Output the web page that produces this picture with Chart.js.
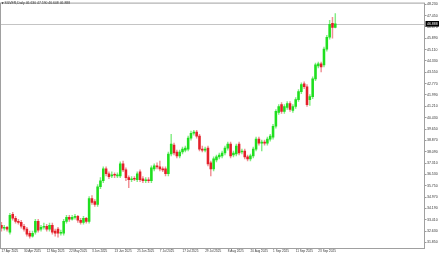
<!DOCTYPE html>
<html>
<head>
<meta charset="utf-8">
<script src="https://cdn.jsdelivr.net/npm/chart.js@4.4.1/dist/chart.umd.min.js"></script>
<style>
  html, body { margin: 0; padding: 0; background: #fff; }
  #wrap { width: 440px; height: 254px; }
</style>
</head>
<body>
<div id="wrap"><canvas id="chart"></canvas></div>
<script>
const symbol = 'SILVER,Daily';

// one label every 8 daily bars, starting at the first bar
const tickLabels = ['17 Apr 2025', '30 Apr 2025', '12 May 2025', '22 May 2025', '3 Jun 2025',
  '13 Jun 2025', '25 Jun 2025', '7 Jul 2025', '17 Jul 2025', '29 Jul 2025', '8 Aug 2025',
  '20 Aug 2025', '1 Sep 2025', '11 Sep 2025', '23 Sep 2025'];
const labelEvery = 8;

const yTicks = [48.23, 47.45, 46.67, 45.89, 45.11, 44.33, 43.55, 42.77, 41.99, 41.21, 40.43,
  39.65, 38.87, 38.09, 37.31, 36.53, 35.75, 34.97, 34.19, 33.41, 32.63, 31.85];

const open = [
  33.03, 32.83, 32.89, 32.55, 33.78, 33.51, 33.30, 33.23, 32.96, 32.76,
  32.48, 32.28, 32.55, 33.30, 32.76, 32.89, 32.96, 32.76, 33.03, 32.62,
  32.76, 32.48, 32.48, 33.30, 33.57, 33.44, 33.57, 33.64, 33.37, 33.23,
  33.51, 33.30, 34.87, 34.66, 34.46, 35.68, 36.09, 36.91, 36.57, 36.43,
  36.50, 36.43, 36.43, 37.25, 36.84, 36.30, 36.16, 36.23, 36.16, 36.71,
  36.23, 36.09, 36.16, 36.09, 36.91, 37.11, 37.05, 36.91, 36.91, 36.57,
  37.93, 38.54, 38.07, 37.80, 38.07, 38.20, 38.27, 39.02, 39.36, 39.43,
  39.16, 38.27, 38.20, 38.34, 37.32, 36.91, 37.52, 37.73, 37.80, 38.00,
  38.34, 38.61, 37.86, 37.93, 38.61, 38.07, 38.14, 37.73, 37.59, 37.80,
  38.27, 38.95, 38.68, 38.75, 38.68, 38.95, 39.09, 39.84, 40.79, 41.33,
  40.86, 41.13, 41.40, 40.93, 41.20, 41.67, 42.22, 42.76, 42.56, 41.67,
  41.88, 43.10, 43.99, 44.13, 44.06, 45.15, 45.96, 46.92, 46.630];
const high = [
  33.23, 33.03, 32.96, 33.85, 33.91, 33.64, 33.44, 33.37, 33.10, 32.89,
  32.62, 32.62, 33.44, 33.44, 33.03, 33.17, 33.10, 33.17, 33.17, 32.76,
  32.89, 32.69, 33.44, 33.71, 33.71, 33.71, 33.78, 33.71, 33.51, 33.64,
  33.57, 35.00, 35.07, 34.80, 35.82, 36.30, 37.05, 37.05, 36.71, 36.71,
  36.64, 36.64, 37.39, 37.45, 36.98, 36.43, 36.37, 36.37, 36.71, 36.84,
  36.37, 36.30, 36.30, 37.11, 37.25, 37.32, 37.45, 37.05, 37.05, 38.07,
  39.29, 38.68, 38.20, 38.20, 38.41, 38.48, 39.16, 39.50, 39.56, 39.56,
  39.29, 38.48, 38.41, 38.48, 37.45, 37.73, 37.86, 38.00, 38.14, 38.48,
  38.75, 38.75, 38.14, 38.61, 38.75, 38.27, 38.27, 37.86, 37.93, 38.41,
  39.09, 39.09, 38.88, 38.88, 39.09, 39.29, 39.97, 40.99, 41.33, 41.47,
  41.33, 41.54, 41.54, 41.33, 41.81, 42.36, 42.83, 42.90, 42.70, 42.01,
  43.24, 44.19, 44.26, 44.26, 45.28, 46.10, 47.12, 47.33, 47.590];
const low = [
  32.62, 32.69, 32.62, 32.42, 33.37, 33.17, 33.10, 32.83, 32.62, 32.28,
  32.14, 32.21, 32.42, 32.55, 32.62, 32.76, 32.62, 32.62, 32.42, 32.28,
  32.21, 32.35, 32.35, 33.17, 33.30, 33.37, 33.44, 33.23, 33.10, 33.10,
  33.17, 33.17, 34.46, 34.32, 34.32, 35.55, 35.96, 36.43, 36.23, 36.30,
  36.30, 36.30, 36.30, 36.71, 36.09, 35.62, 36.03, 36.09, 36.03, 36.03,
  35.96, 35.96, 35.96, 35.96, 36.77, 36.91, 36.77, 36.71, 36.43, 36.43,
  37.80, 37.86, 37.66, 37.66, 37.93, 38.07, 38.14, 38.88, 39.22, 39.02,
  38.14, 38.07, 38.07, 37.11, 36.43, 36.77, 37.39, 37.59, 37.66, 37.86,
  38.20, 37.66, 37.73, 37.80, 37.86, 37.93, 37.59, 37.45, 37.45, 37.66,
  38.14, 38.54, 38.14, 38.54, 38.54, 38.82, 38.95, 39.70, 40.65, 40.72,
  40.72, 40.99, 40.86, 40.79, 41.06, 41.54, 42.08, 42.42, 41.20, 41.27,
  41.74, 42.97, 43.85, 43.58, 43.92, 45.01, 45.83, 45.90, 46.608];
const close = [
  32.83, 32.89, 32.76, 33.71, 33.51, 33.30, 33.23, 32.96, 32.76, 32.42,
  32.28, 32.48, 33.30, 32.69, 32.89, 32.96, 32.76, 33.03, 32.55, 32.48,
  32.48, 32.55, 33.30, 33.57, 33.44, 33.57, 33.64, 33.37, 33.23, 33.51,
  33.30, 34.87, 34.60, 34.46, 35.68, 36.09, 36.91, 36.57, 36.37, 36.50,
  36.47, 36.50, 37.25, 36.84, 36.30, 36.16, 36.23, 36.20, 36.57, 36.16,
  36.09, 36.16, 36.09, 36.98, 37.11, 37.05, 36.91, 36.84, 36.57, 37.93,
  38.61, 38.00, 37.80, 38.07, 38.27, 38.34, 39.02, 39.36, 39.43, 39.16,
  38.27, 38.20, 38.27, 37.25, 36.91, 37.59, 37.73, 37.86, 38.00, 38.34,
  38.61, 37.80, 38.00, 38.48, 38.00, 38.14, 37.73, 37.59, 37.80, 38.27,
  38.95, 38.68, 38.75, 38.68, 38.95, 39.16, 39.84, 40.86, 41.20, 40.86,
  41.20, 41.40, 40.99, 41.20, 41.67, 42.22, 42.70, 42.56, 41.33, 41.88,
  43.10, 44.06, 44.13, 43.92, 45.15, 45.96, 46.85, 46.63, 46.888];

const UP = '#1fdf1f', DOWN = '#e3202a';
const UP_WICK = 'rgba(31,223,31,0.55)', DOWN_WICK = 'rgba(227,32,42,0.5)';
const FONT = 'Liberation Sans, Arial, sans-serif';

const last = close.length - 1;
const isUp = close.map((c, i) => c >= open[i]);

const bodies = open.map((o, i) => ({ x: i, y: [o, close[i]] }));
const wicks = low.map((l, i) => ({ x: i, y: [l, high[i]] }));

const overlay = {
  id: 'overlay',
  beforeDatasetsDraw(chart) {
    const { ctx, chartArea: a, scales: { y } } = chart;
    const py = Math.round(y.getPixelForValue(close[last])) + 0.5;
    ctx.save();
    ctx.strokeStyle = '#c4c4c4';
    ctx.lineWidth = 1;
    ctx.beginPath();
    ctx.moveTo(a.left, py);
    ctx.lineTo(a.right, py);
    ctx.stroke();
    ctx.restore();
  },
  afterDraw(chart) {
    const { ctx, chartArea: a, scales: { y } } = chart;
    ctx.save();
    // frame
    ctx.strokeStyle = '#a0a0a0';
    ctx.lineWidth = 1;
    ctx.strokeRect(a.left + 0.5, a.top + 0.5, a.right - a.left - 1, a.bottom - a.top);
    // last price box
    const py = y.getPixelForValue(close[last]);
    ctx.fillStyle = '#000';
    ctx.fillRect(a.right + 0.5, py - 2.8, 13.5, 5.6);
    ctx.fillStyle = '#fff';
    ctx.font = '3.5px ' + FONT;
    ctx.textBaseline = 'middle';
    ctx.textAlign = 'left';
    ctx.fillText(close[last].toFixed(3), a.right + 2, py + 0.2);
    // title
    ctx.fillStyle = '#333';
    ctx.beginPath();
    ctx.moveTo(1.5, 2.2); ctx.lineTo(3.7, 2.2); ctx.lineTo(2.6, 4.2);
    ctx.closePath();
    ctx.fill();
    ctx.font = '3.4px ' + FONT;
    const t = [symbol, open[last], high[last], low[last], close[last]]
      .map(v => typeof v === 'number' ? v.toFixed(3) : v).join(' ');
    ctx.fillText(t, 4.5, 3.4);
    ctx.restore();
  }
};

new Chart(document.getElementById('chart'), {
  type: 'bar',
  data: {
    datasets: [
      {
        data: wicks,
        backgroundColor: isUp.map(u => u ? UP_WICK : DOWN_WICK),
        barThickness: 0.8,
        grouped: false,
        minBarLength: 1,
        order: 2
      },
      {
        data: bodies,
        backgroundColor: isUp.map(u => u ? UP : DOWN),
        barThickness: 1.9,
        grouped: false,
        minBarLength: 0.8,
        order: 1
      }
    ]
  },
  options: {
    responsive: true,
    maintainAspectRatio: false,
    animation: false,
    layout: { padding: 0 },
    plugins: { legend: { display: false }, tooltip: { enabled: false } },
    scales: {
      x: {
        type: 'linear',
        offset: false,
        min: -0.5,
        max: 149.7,
        afterFit: s => { s.height = 6; },
        afterBuildTicks: s => { s.ticks = tickLabels.map((_, k) => ({ value: k * labelEvery })); },
        grid: { color: 'rgba(0,0,0,0)', tickColor: '#999', tickLength: 1.5 },
        border: { display: false },
        ticks: {
          autoSkip: false,
          maxRotation: 0,
          align: 'start',
          padding: 0,
          color: '#333',
          font: { family: FONT, size: 3.1 },
          callback: v => tickLabels[v / labelEvery]
        }
      },
      y: {
        position: 'right',
        min: 31.464,
        max: 48.346,
        afterFit: s => { s.width = 15; },
        afterBuildTicks: s => { s.ticks = yTicks.map(v => ({ value: v })); },
        grid: { color: 'rgba(0,0,0,0)', tickColor: '#999', tickLength: 1.5 },
        border: { display: false },
        ticks: {
          autoSkip: false,
          padding: 0.5,
          color: '#333',
          font: { family: FONT, size: 3.5 },
          callback: v => v.toFixed(3)
        }
      }
    }
  },
  plugins: [overlay]
});
</script>
</body>
</html>
